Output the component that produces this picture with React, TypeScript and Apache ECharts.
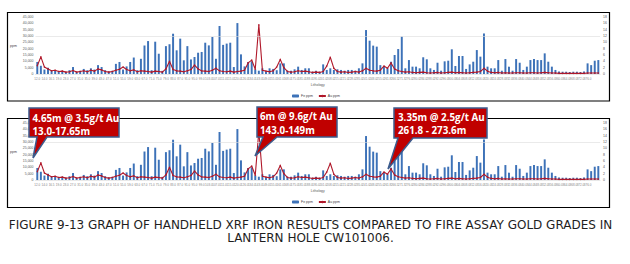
import React, { useEffect, useRef } from "react";
import * as echarts from "echarts";

const depths: number[] = [
  12, 13, 14, 15.6, 16.5, 17.65,
  19, 21, 23, 25, 27, 29, 31, 33, 35, 37,
  39, 41, 43, 45, 47, 49, 51, 53, 55, 57,
  59, 61, 63, 65, 67, 69, 71, 73, 75, 77,
  79, 81, 83, 85, 87, 89, 91, 93, 95, 97,
  99, 101, 103, 105, 107, 109, 111, 113, 115, 117,
  120, 123, 126, 130, 134, 138,
  143, 146, 149,
  152, 155, 158, 161, 165, 168, 171, 175, 178, 181,
  185, 188, 191, 195, 198, 201, 205, 208, 211, 215,
  218, 221, 225, 228, 231, 235, 238, 241, 245, 248,
  251, 255,
  258.5, 261.8, 264, 266.5, 269, 271.3, 273.6,
  276, 278, 280, 282, 284, 286, 288, 290, 292, 294,
  296, 298, 300, 302, 304, 306, 308, 310, 312, 314,
  316, 318, 320, 322, 324, 326, 328, 330, 332, 334,
  336, 338, 340, 342, 344, 346, 348, 350, 352, 354,
  356, 358, 360, 362, 364, 366, 368, 370, 372, 374,
  376, 378, 380, 382,
];

const feValues: number[] = [
  9500, 6500, 3500, 5000, 2500, 3000, 2000, 2500, 1500, 3000,
  5500, 1500, 2500, 4000, 3000, 4500, 3500, 7000, 5500, 3000,
  2000, 2500, 8000, 9500, 3500, 6000, 9500, 13000, 3000, 12000,
  22500, 26000, 3000, 25500, 16000, 2500, 22000, 23500, 31800, 18700,
  27900, 10800, 22000, 11500, 13400, 16800, 17400, 24700, 22600, 29200,
  12000, 37900, 23000, 24000, 24700, 5500, 40200, 15500, 6000, 9500,
  10000, 3500,
  2600, 4500, 2000, 4500, 4000, 3000, 8400, 8400, 2600, 2600,
  3700, 5800, 3200, 4500, 4500, 1800, 2600, 1800, 7600, 3200,
  4500, 3200, 3700, 3200, 2600, 3200, 3200, 2600, 4500, 8400,
  34700, 26300, 22400, 21600, 7000, 5800, 4500, 9700, 15000, 19700,
  29500, 4500, 11000, 5800, 5800, 4500, 13200, 11600, 4500, 3200,
  8900, 2600, 10000, 10500, 19500, 6300, 14200, 14200, 4000, 7600,
  9700, 18900, 13700, 32000, 5800, 4500, 4500, 11000, 2600, 11800,
  5800, 2600, 11800, 8900, 3200, 5800, 11000, 11800, 11000, 11000,
  16300, 9700, 5800, 3200,
  2000, 1800, 1800, 1600, 1800, 1800, 1600, 2000,
  8400, 7000, 10500, 11000,
];

const auValues: number[] = [
  2.6, 5.4, 2.2, 1.6, 1.0, 1.2, 0.8, 0.9, 0.6, 0.7,
  1.1, 0.6, 0.8, 1.0, 0.7, 1.2, 0.9, 1.6, 1.3, 0.8,
  0.6, 0.8, 1.2, 1.5, 2.2, 1.4, 1.0, 1.3, 0.7, 1.0,
  0.9, 0.8, 0.6, 0.9, 0.8, 0.6, 1.6, 4.0, 1.4, 1.0,
  0.9, 0.7, 1.0, 1.4, 2.8, 1.6, 1.0, 0.9, 0.8, 1.2,
  1.8, 1.0, 0.8, 0.7, 0.9, 0.6, 0.8, 0.9, 1.2, 3.5,
  4.4, 1.5, 15.5, 1.2, 0.9, 0.7, 1.0, 2.2, 4.6, 2.0,
  0.8, 0.6, 0.7, 1.0, 0.8, 0.9, 0.7, 0.5, 0.6, 0.5,
  0.8, 2.5, 5.3, 1.8, 0.8, 0.6, 0.7, 0.5, 0.6, 0.8,
  0.6, 1.0, 1.8, 1.2, 1.0, 0.9, 1.2, 2.5, 1.8, 3.5,
  1.6, 1.0, 0.8, 0.6, 0.7,
  0.5, 0.4, 0.5, 0.6, 0.4, 0.3, 0.4, 0.5, 0.3, 0.4,
  0.5, 0.6, 0.4, 0.5, 0.4, 0.3, 0.4, 0.5, 0.6, 0.8,
  1.8, 0.9, 0.5, 0.4, 0.5, 0.3, 0.4, 0.3, 0.3, 0.4,
  0.4, 0.3, 0.3, 0.4, 0.4, 0.3, 0.4, 0.5, 0.4, 0.3,
  0.3, 0.2, 0.2, 0.2, 0.2, 0.2, 0.2, 0.2, 0.2, 0.3,
  0.3, 0.3, 0.3,
];

const feTicks = { min: 0, max: 45000, interval: 5000 };
const auTicks = { min: 0, max: 18, interval: 2 };
const gridLineValue = 30000;

const seriesNames = ["Fe ppm", "Au ppm"];
const yAxisName = "ppm";
const xAxisName = "Lithology";

const callouts = [
  { line1: "4.65m @ 3.5g/t Au", line2: "13.0-17.65m" },
  { line1: "6m @ 9.6g/t Au", line2: "143.0-149m" },
  { line1: "3.35m @ 2.5g/t Au", line2: "261.8 - 273.6m" },
];

const captionLines = [
  "FIGURE 9-13 GRAPH OF HANDHELD XRF IRON RESULTS COMPARED TO FIRE ASSAY GOLD GRADES IN",
  "LANTERN HOLE CW101006.",
];

const categories = depths.map((d) => d.toFixed(1));

export default function App() {
  const ref = useRef<HTMLDivElement>(null);

  useEffect(() => {
    if (!ref.current) return;
    const chart = echarts.init(ref.current, undefined, { renderer: "svg" });

    const tops = [17, 123];
    const grid = tops.map((t) => ({ left: 35.5, right: 29.9, top: t, height: 57 }));

    const xAxis = tops.map((_, i) => ({
      type: "category",
      gridIndex: i,
      data: categories,
      name: xAxisName,
      nameLocation: "middle",
      nameGap: 9,
      nameTextStyle: { fontSize: 3.5, color: "#595959" },
      axisTick: { show: false },
      axisLine: { show: true, lineStyle: { color: "#d9d9d9", width: 0.6 } },
      axisLabel: { fontSize: 3, color: "#7f7f7f", interval: 1, margin: 3 },
    }));

    const yAxis: any[] = [];
    tops.forEach((_, i) => {
      yAxis.push({
        type: "value",
        gridIndex: i,
        min: feTicks.min,
        max: feTicks.max,
        interval: feTicks.interval,
        name: yAxisName,
        nameLocation: "middle",
        nameRotate: 0,
        nameGap: 17,
        nameTextStyle: { fontSize: 3.5, color: "#404040" },
        axisLine: { show: false },
        axisTick: { show: false },
        splitLine: { show: false },
        axisLabel: { fontSize: 3.5, color: "#595959", margin: 2 },
      });
      yAxis.push({
        type: "value",
        gridIndex: i,
        position: "right",
        min: auTicks.min,
        max: auTicks.max,
        interval: auTicks.interval,
        axisLine: { show: false },
        axisTick: { show: false },
        splitLine: { show: false },
        axisLabel: { fontSize: 3.5, color: "#595959", margin: 3 },
      });
    });

    const series: any[] = [];
    tops.forEach((_, i) => {
      series.push({
        name: seriesNames[0],
        type: "bar",
        xAxisIndex: i,
        yAxisIndex: i * 2,
        data: feValues,
        barWidth: "55%",
        itemStyle: { color: "#3d72b8" },
        markLine: {
          silent: true,
          symbol: "none",
          label: { show: false },
          lineStyle: { color: "#dcdcdc", width: 0.6, type: "solid" },
          data: [{ yAxis: gridLineValue }],
        },
        z: 2,
      });
      series.push({
        name: seriesNames[1],
        type: "line",
        xAxisIndex: i,
        yAxisIndex: i * 2 + 1,
        data: auValues,
        symbol: "circle",
        symbolSize: 1.4,
        lineStyle: { color: "#b0182a", width: 1.1 },
        itemStyle: { color: "#b0182a" },
        z: 3,
      });
    });

    const legend = tops.map((t) => ({
      data: seriesNames,
      left: 292,
      top: t + 77,
      itemWidth: 7,
      itemHeight: 3,
      itemGap: 5,
      textStyle: { fontSize: 3.5, color: "#404040", padding: [0, 0, 0, -3] },
      padding: 0,
    }));

    const calloutShapes = [
      { pts: [[29, 108], [119, 108], [119, 137], [47, 137], [33, 158], [37, 137], [29, 137]], tx: 32.5, y1: 118, y2: 131 },
      { pts: [[257, 107], [337, 107], [337, 137], [277, 137], [255, 156], [263, 137], [257, 137]], tx: 260, y1: 116.5, y2: 130 },
      { pts: [[394, 108], [487, 108], [487, 138], [413, 138], [388, 169], [398, 138], [394, 138]], tx: 398, y1: 117.5, y2: 130.5 },
    ];

    const graphic: any[] = [
      {
        type: "rect",
        shape: { x: 7.5, y: 12.5, width: 602, height: 88.5 },
        style: { fill: "none", stroke: "#000", lineWidth: 1.2 },
        silent: true,
        z: 10,
      },
      {
        type: "rect",
        shape: { x: 7.5, y: 118.5, width: 602, height: 89 },
        style: { fill: "none", stroke: "#000", lineWidth: 1.2 },
        silent: true,
        z: 10,
      },
    ];

    calloutShapes.forEach((c, i) => {
      graphic.push({
        type: "polygon",
        shape: { points: c.pts },
        style: { fill: "#c00000", stroke: "#3b5b8d", lineWidth: 1.5 },
        silent: true,
        z: 20,
      });
      [callouts[i].line1, callouts[i].line2].forEach((txt, k) => {
        graphic.push({
          type: "text",
          x: c.tx,
          y: k === 0 ? c.y1 : c.y2,
          style: {
            text: txt,
            fill: "#ffffff",
            fontSize: 9.8,
            fontWeight: "bold",
            fontFamily: "Open Sans",
            verticalAlign: "middle",
            align: "left",
          },
          silent: true,
          z: 21,
        });
      });
    });

    captionLines.forEach((line, i) => {
      graphic.push({
        type: "text",
        x: 310.5,
        y: 225 + i * 12.8,
        style: {
          text: line,
          fill: "#1e1e1e",
          fontSize: 12,
          fontFamily: "DejaVu Sans",
          verticalAlign: "middle",
          align: "center",
        },
        silent: true,
        z: 10,
      });
    });

    chart.setOption({
      animation: false,
      backgroundColor: "#ffffff",
      grid,
      xAxis,
      yAxis,
      legend,
      series,
      graphic,
    });

    return () => chart.dispose();
  }, []);

  return (
    <div
      ref={ref}
      style={{ position: "absolute", left: 0, top: 0, width: 630, height: 264 }}
    />
  );
}
